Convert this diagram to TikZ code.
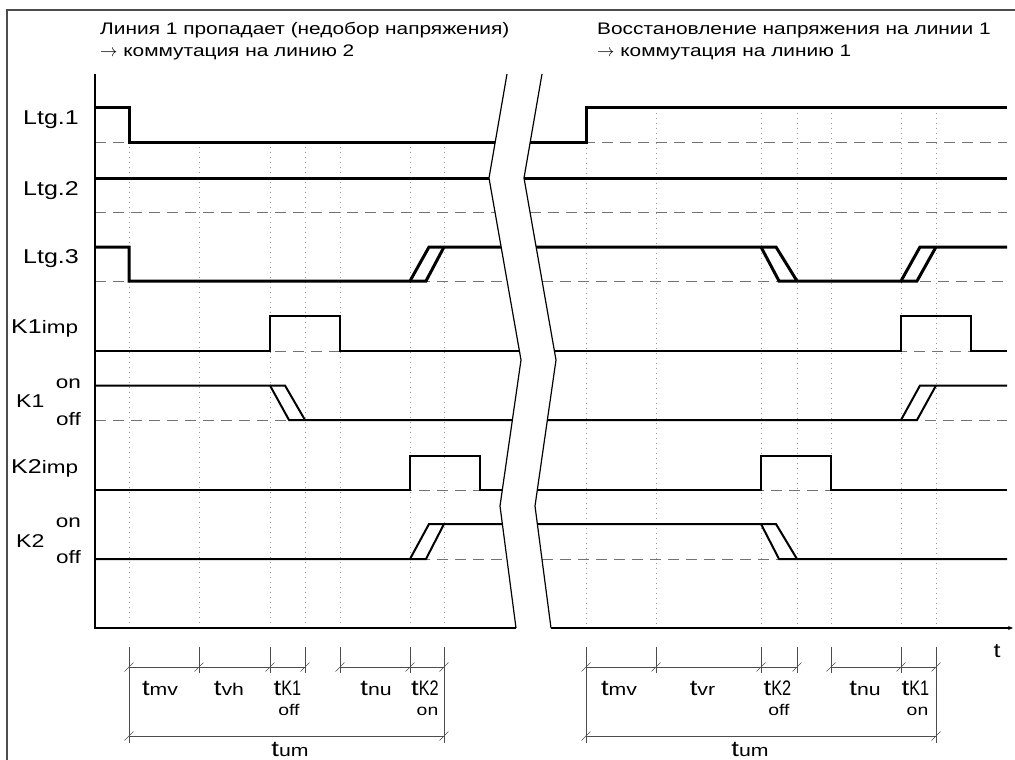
\documentclass[tikz,border=0pt]{standalone}
\usepackage{fontspec}
\setmainfont{Liberation Sans}[FakeStretch=1.25]
\usepackage{graphicx}
\usetikzlibrary{arrows.meta}
\newcommand{\tsub}[1]{{\fontsize{22}{22}\selectfont t}{\fontsize{17}{17}\selectfont #1}}
\newcommand{\tKsub}[1]{{\fontsize{22}{22}\selectfont t}\scalebox{0.62}[1]{\fontsize{21}{21}\selectfont K#1}}
\begin{document}
\begin{tikzpicture}[x=1pt,y=-1pt,
  frameline/.style={draw=black!70,line width=1.2pt},
  gridline/.style={draw=black!40,line width=0.7pt,dash pattern=on 1pt off 4pt},
  baseline/.style={draw=black!55,line width=0.9pt,dash pattern=on 11pt off 7pt},
  sigA/.style={line width=3pt},
  sigB/.style={line width=2pt},
  brk/.style={line width=1.2pt},
  axisline/.style={line width=1.3pt},
  dimline/.style={draw=black!70,line width=0.6pt},
  lbl/.style={inner sep=0pt,anchor=base east,font=\fontsize{20}{20}\selectfont},
  small/.style={inner sep=0pt,anchor=base east,font=\fontsize{18}{18}\selectfont},
  ttl/.style={inner sep=0pt,anchor=base west,font=\fontsize{16.7}{16.7}\selectfont},
  dimlbl/.style={inner sep=0pt,anchor=base},
  dimsub/.style={inner sep=0pt,anchor=base,font=\fontsize{15.5}{15.5}\selectfont}]
\useasboundingbox (0,0) rectangle (1015,760);
% frame
\draw[frameline] (7,760) -- (7,10) -- (1015,10);
% titles
\node[ttl] (tl1) at (100,34.5) {Линия 1 пропадает (недобор напряжения)};
\node[ttl] (tl2) at (100,57) {$\rightarrow$ коммутация на линию 2};
\node[ttl] (tr1) at (597,34.5) {Восстановление напряжения на линии 1};
\node[ttl] (tr2) at (597,57) {$\rightarrow$ коммутация на линию 1};
% grid
\foreach \x in {129,199,270,305,340,410,444} \draw[gridline] (\x,142) -- (\x,628);
\foreach \x in {586,656,761,797,831,901,936} \draw[gridline] (\x,107.5) -- (\x,628);
% dashed baselines (left end, right start)
\foreach \y/\xa in {142/495.2,212/495.0,281/507.1,351/519.4,420/512.4,490/502.3,559/507.0}
  {\draw[baseline] (95,\y) -- (\xa,\y);
   \draw[baseline] (\xa+35,\y) -- (1007,\y);}
% Ltg.1
\draw[sigA] (95,107.5) -- (129,107.5) -- (129,142) -- (495.2,142);
\draw[sigA] (530.2,142) -- (586,142) -- (586,107.5) -- (1007,107.5);
% Ltg.2
\draw[sigA] (95,178) -- (489,178);
\draw[sigA] (524,178) -- (1007,178);
% Ltg.3
\draw[sigA] (95,247) -- (129,247) -- (129,281) -- (410,281) -- (429,247) -- (501.1,247);
\draw[sigA] (410,281) -- (426,281) -- (444,247);
\draw[sigA] (536.1,247) -- (761,247) -- (779,281) -- (901,281) -- (920,247) -- (1007,247);
\draw[sigA] (761,247) -- (776,247) -- (797,281);
\draw[sigA] (901,281) -- (917,281) -- (936,247);
% K1imp
\draw[sigB] (95,351) -- (270,351) -- (270,316) -- (340,316) -- (340,351) -- (519.4,351);
\draw[sigB] (554.4,351) -- (901,351) -- (901,316) -- (971,316) -- (971,351) -- (1007,351);
% K1
\draw[sigB] (95,385.5) -- (270,385.5) -- (289,420) -- (512.4,420);
\draw[sigB] (270,385.5) -- (285,385.5) -- (305,420);
\draw[sigB] (547.4,420) -- (901,420) -- (920,385.5) -- (1007,385.5);
\draw[sigB] (901,420) -- (917,420) -- (936,385.5);
% K2imp
\draw[sigB] (95,490) -- (410,490) -- (410,456) -- (480,456) -- (480,490) -- (502.3,490);
\draw[sigB] (537.3,490) -- (761,490) -- (761,456) -- (831,456) -- (831,490) -- (1007,490);
% K2
\draw[sigB] (95,559) -- (410,559) -- (429,524) -- (502.4,524);
\draw[sigB] (410,559) -- (426,559) -- (444,524);
\draw[sigB] (537.4,524) -- (761,524) -- (779,559) -- (1007,559);
\draw[sigB] (761,524) -- (776,524) -- (797,559);
% axes
\draw[axisline] (95,74) -- (95,628) -- (516,628);
\coordinate (axend) at (1013,628);
\draw[axisline,-{Stealth[length=5pt,width=4pt]}] (551,628) -- (axend);
\node[inner sep=0pt,anchor=base,font=\fontsize{20}{20}\selectfont] (tax) at (997,657) {t};
% break lines
\draw[brk] (507,74) -- (489,178) -- (521,360) -- (500,506) -- (516,628);
\draw[brk] (542,74) -- (524,178) -- (556,360) -- (535,506) -- (551,628);
% labels
\node[lbl] (l1) at (79,124.5) {Ltg.1};
\node[lbl] (l2) at (79,195) {Ltg.2};
\node[lbl] (l3) at (79,263) {Ltg.3};
\node[inner sep=0pt,anchor=base west] (k1i) at (11,333) {\fontsize{20}{20}\selectfont K1\fontsize{18}{18}\selectfont imp};
\node[inner sep=0pt,anchor=base west,font=\fontsize{18.5}{18.5}\selectfont] (k1) at (16,407) {K1};
\node[small] (k1on) at (81,388) {on};
\node[small] (k1off) at (81,425) {off};
\node[inner sep=0pt,anchor=base west] (k2i) at (11,473) {\fontsize{20}{20}\selectfont K2\fontsize{18}{18}\selectfont imp};
\node[inner sep=0pt,anchor=base west,font=\fontsize{18.5}{18.5}\selectfont] (k2) at (16,547) {K2};
\node[small] (k2on) at (81,527) {on};
\node[small] (k2off) at (81,563) {off};
% dimension lines left
\foreach \x in {129,199,270,305,340,410,444}
  {\draw[dimline] (\x,647) -- (\x,673);
   \draw[dimline] (\x-4.5,671.5) -- (\x+4.5,662.5);}
\draw[dimline] (129,667) -- (305,667);
\draw[dimline] (340,667) -- (444,667);
\draw[dimline] (129,673) -- (129,743);
\draw[dimline] (444,673) -- (444,743);
\draw[dimline] (129,736) -- (444,736);
\draw[dimline] (124.5,740.5) -- (133.5,731.5);
\draw[dimline] (439.5,740.5) -- (448.5,731.5);
% dimension lines right
\foreach \x in {586,656,761,797,831,901,936}
  {\draw[dimline] (\x,647) -- (\x,673);
   \draw[dimline] (\x-4.5,671.5) -- (\x+4.5,662.5);}
\draw[dimline] (586,667) -- (797,667);
\draw[dimline] (831,667) -- (936,667);
\draw[dimline] (586,673) -- (586,743);
\draw[dimline] (936,673) -- (936,743);
\draw[dimline] (586,736) -- (936,736);
\draw[dimline] (581.5,740.5) -- (590.5,731.5);
\draw[dimline] (931.5,740.5) -- (940.5,731.5);
% dimension labels left
\node[dimlbl] (dmv1) at (160,695) {\tsub{mv}};
\node[dimlbl] (dvh) at (229,695) {\tsub{vh}};
\node[dimlbl] (dk1off) at (287.5,695) {\tKsub{1}};
\node[dimsub] (dk1offs) at (289,715) {off};
\node[dimlbl] (dnu1) at (376,695) {\tsub{nu}};
\node[dimlbl] (dk2on) at (425,695) {\tKsub{2}};
\node[dimsub] (dk2ons) at (427.5,715) {on};
\node[dimlbl] (dum1) at (290,756) {\tsub{um}};
% dimension labels right
\node[dimlbl] (dmv2) at (619,695) {\tsub{mv}};
\node[dimlbl] (dvr) at (702.5,695) {\tsub{vr}};
\node[dimlbl] (dk2off) at (777.5,695) {\tKsub{2}};
\node[dimsub] (dk2offs) at (779,715) {off};
\node[dimlbl] (dnu2) at (865,695) {\tsub{nu}};
\node[dimlbl] (dk1on) at (915.5,695) {\tKsub{1}};
\node[dimsub] (dk1ons) at (917.5,715) {on};
\node[dimlbl] (dum2) at (750,756) {\tsub{um}};
\end{tikzpicture}
\end{document}
